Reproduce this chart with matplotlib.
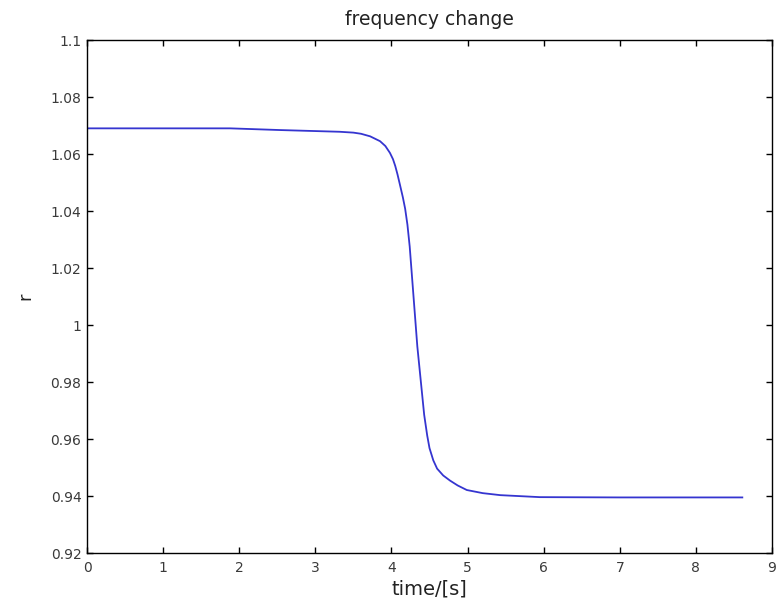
import matplotlib
matplotlib.use("Agg")
import matplotlib.pyplot as plt

# frequency ratio r versus time
time_s = [0.0, 1.0, 1.88, 2.54, 2.8, 3.32, 3.5, 3.6, 3.72, 3.85, 3.92, 3.98,
          4.02, 4.05, 4.08, 4.11, 4.15, 4.18, 4.21, 4.24, 4.28, 4.34, 4.40,
          4.43, 4.47, 4.50, 4.55, 4.60, 4.68, 4.77, 4.87, 4.99, 5.2, 5.43,
          5.95, 7.0, 8.61]
r_values = [1.069, 1.069, 1.069, 1.0684, 1.0682, 1.0678, 1.0675, 1.0671,
            1.0662, 1.0645, 1.0628, 1.0604, 1.0582, 1.0558, 1.0528, 1.0494,
            1.0448, 1.0408, 1.0352, 1.0275, 1.0135, 0.9925, 0.9765, 0.9685,
            0.9612, 0.9568, 0.9525, 0.9496, 0.9472, 0.9454, 0.9437, 0.9421,
            0.941, 0.9403, 0.9396, 0.9395, 0.9395]

x_ticks = [0, 1, 2, 3, 4, 5, 6, 7, 8, 9]
y_ticks = [0.92, 0.94, 0.96, 0.98, 1.0, 1.02, 1.04, 1.06, 1.08, 1.1]
y_tick_labels = ["0.92", "0.94", "0.96", "0.98", "1", "1.02", "1.04",
                 "1.06", "1.08", "1.1"]

plt.rcParams["font.family"] = ["DejaVu Sans"]

fig = plt.figure(figsize=(7.84, 6.06), dpi=100)
ax = fig.add_axes([87 / 784, 53 / 606, 685 / 784, 513 / 606])

ax.plot(time_s, r_values, color="#3535d0", lw=1.3,
        solid_joinstyle="round")

ax.set_xlim(0, 9)
ax.set_ylim(0.92, 1.1)
ax.set_xticks(x_ticks)
ax.set_xticklabels([str(v) for v in x_ticks])
ax.set_yticks(y_ticks)
ax.set_yticklabels(y_tick_labels)

ax.tick_params(direction="in", length=4, width=1, top=True, right=True,
               labelsize=10, labelcolor="#3a3a3a", colors="black")
ax.tick_params(axis="x", pad=6)
ax.tick_params(axis="y", pad=4)
for s in ax.spines.values():
    s.set_linewidth(1.0)
    s.set_color("black")

ax.set_title("frequency change", fontsize=13.5, color="#222222", pad=11)
ax.set_xlabel("time/[s]", fontsize=14, color="#222222", labelpad=3)
ax.set_ylabel("r", fontsize=13, color="#222222", labelpad=12)

fig.savefig("out.png", dpi=100)
